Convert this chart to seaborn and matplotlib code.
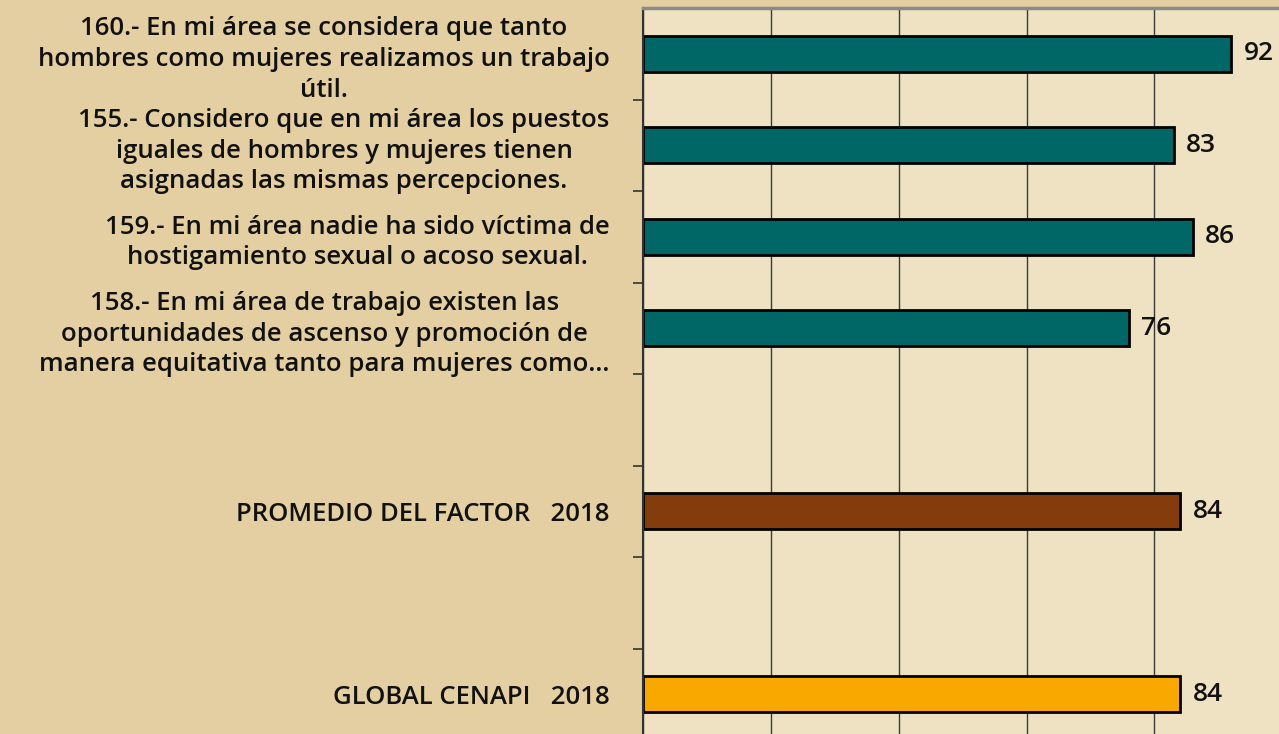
import numpy as np
import pandas as pd
import matplotlib
matplotlib.use("Agg")
import matplotlib.pyplot as plt
import seaborn as sns

# Datos del gráfico
preguntas = [
    "160.- En mi área se considera que tanto\nhombres como mujeres realizamos un trabajo\nútil.",
    "155.- Considero que en mi área los puestos\niguales de hombres y mujeres tienen\nasignadas las mismas percepciones.",
    "159.- En mi área nadie ha sido víctima de\nhostigamiento sexual o acoso sexual.",
    "158.- En mi área de trabajo existen las\noportunidades de ascenso y promoción de\nmanera equitativa tanto para mujeres como...",
    " ",
    "PROMEDIO DEL FACTOR   2018",
    "  ",
    "GLOBAL CENAPI   2018",
]
valores = [92, 83, 86, 76, np.nan, 84, np.nan, 84]
colores = ["#006666", "#006666", "#006666", "#006666", "#006666",
           "#843c0c", "#006666", "#f9a800"]

df = pd.DataFrame({"pregunta": preguntas, "valor": valores})

sns.set_style("white")
plt.rcParams["font.family"] = ["Open Sans", "DejaVu Sans"]
plt.rcParams["text.color"] = "#111111"
plt.rcParams["ytick.color"] = "#333333"
plt.rcParams["ytick.labelcolor"] = "#111111"

fig = plt.figure(figsize=(12.79, 7.34), dpi=100, facecolor="#e4cfa2")
ax = fig.add_axes([643 / 1279, -6 / 734, 1 - 643 / 1279, 732 / 734])
ax.set_facecolor("#efe2c3")

sns.barplot(data=df, x="valor", y="pregunta", hue="pregunta", order=preguntas,
            palette=dict(zip(preguntas, colores)), width=0.39, saturation=1,
            edgecolor="black", linewidth=2, legend=False, ax=ax)

ax.set_xlim(0, 99.5)
ax.set_xticks([0, 20, 40, 60, 80])
ax.xaxis.grid(True, color="#3a3a3a", linewidth=1)
ax.set_axisbelow(True)
ax.tick_params(axis="x", bottom=False, labelbottom=False)
ax.set_xlabel("")
ax.set_ylabel("")

# marcas entre categorías, estilo Excel
ax.set_yticks(np.arange(len(preguntas)) + 0.5, minor=True)
ax.tick_params(axis="y", which="minor", left=True, length=7, width=1.2)
ax.tick_params(axis="y", which="major", left=False, length=0, pad=24)
for lbl in ax.get_yticklabels():
    lbl.set_fontsize(18.5)
    lbl.set_fontweight("semibold")
    lbl.set_multialignment("center")
    lbl.set_linespacing(1.3)

for c in ax.containers:
    ax.bar_label(c, fmt="%.0f", padding=9, fontsize=19, fontweight="semibold")

for s in ["right", "bottom"]:
    ax.spines[s].set_visible(False)
ax.spines["left"].set_color("#333333")
ax.spines["left"].set_linewidth(1.5)
ax.spines["top"].set_color("#8a8a8a")
ax.spines["top"].set_linewidth(2.5)

fig.savefig("out.png", dpi=100, facecolor=fig.get_facecolor())
